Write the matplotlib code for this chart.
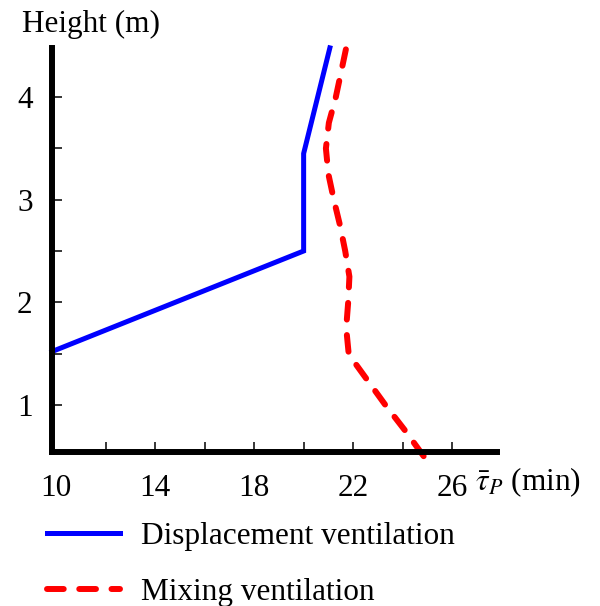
"""Mean age of air vs. height: displacement vs. mixing ventilation."""

import matplotlib
matplotlib.use("Agg")
import matplotlib.pyplot as plt
from matplotlib.ticker import FixedLocator, MultipleLocator
from matplotlib.lines import Line2D

plt.rcParams["font.family"] = ["Liberation Serif", "DejaVu Serif"]
plt.rcParams["mathtext.fontset"] = "stix"

# Displacement ventilation (tau in min, height in m)
disp_tau = [9.83, 20.0, 20.0, 21.06]
disp_height = [1.52, 2.5, 3.45, 4.48]

# Mixing ventilation
mix_height = [0.5, 0.75, 1.0, 1.25, 1.4, 1.5, 1.75, 2.0, 2.25, 2.5,
              2.75, 3.0, 3.25, 3.5, 3.75, 4.0, 4.25, 4.48]
mix_tau = [24.85, 24.1, 23.3, 22.55, 22.1, 21.82, 21.72, 21.8, 21.85, 21.68,
           21.47, 21.22, 21.0, 20.9, 21.02, 21.3, 21.52, 21.72]

x_major = [10, 14, 18, 22, 26]
x_minor = [12, 16, 20, 24]
y_major = [1, 2, 3, 4]

BLUE = "#0000ff"
RED = "#ff0000"
FS = 22.5
DASH = (2.8, 2.6)


def main():
    fig = plt.figure(figsize=(6.0, 6.06), dpi=100)
    ax = fig.add_axes([0.0867, 0.254, 0.741, 0.667])

    ax.plot(disp_tau, disp_height, color=BLUE, linewidth=3.6,
            solid_joinstyle="miter", clip_on=False)
    ax.plot(mix_tau, mix_height, color=RED, linewidth=4.3,
            dashes=DASH, dash_capstyle="round", clip_on=False)

    ax.set_xlim(9.83, 27.8)
    ax.set_ylim(0.54, 4.48)

    for side in ("top", "right"):
        ax.spines[side].set_visible(False)
    for side in ("left", "bottom"):
        ax.spines[side].set_linewidth(4.3)
        ax.spines[side].set_capstyle("projecting")

    ax.set_xticks(x_major)
    ax.xaxis.set_minor_locator(FixedLocator(x_minor))
    ax.set_yticks(y_major)
    ax.yaxis.set_minor_locator(MultipleLocator(0.5))
    ax.tick_params(which="both", direction="in", length=7, width=1.1,
                   labelsize=FS)
    ax.tick_params(axis="x", pad=16)
    ax.tick_params(axis="y", pad=14)
    # tick at 10 sits on the spine, hide it
    ax.xaxis.get_major_ticks()[0].tick1line.set_visible(False)

    fig.text(0.036, 0.96, "Height (m)", fontsize=FS, ha="left", va="center")
    fig.text(0.792, 0.204, r"$\bar{\tau}_P$ (min)", fontsize=FS,
             ha="left", va="center")

    handles = [
        Line2D([], [], color=BLUE, linewidth=3.6),
        Line2D([], [], color=RED, linewidth=4.3, dashes=DASH,
               dash_capstyle="round"),
    ]
    fig.legend(handles, ["Displacement ventilation", "Mixing ventilation"],
               loc="upper left", bbox_to_anchor=(0.078, 0.138),
               frameon=False, fontsize=FS, handlelength=2.35,
               handletextpad=0.65, labelspacing=0.85, borderpad=0,
               borderaxespad=0)

    fig.savefig("out.png", dpi=100, facecolor="white")
    plt.close(fig)


if __name__ == "__main__":
    main()
